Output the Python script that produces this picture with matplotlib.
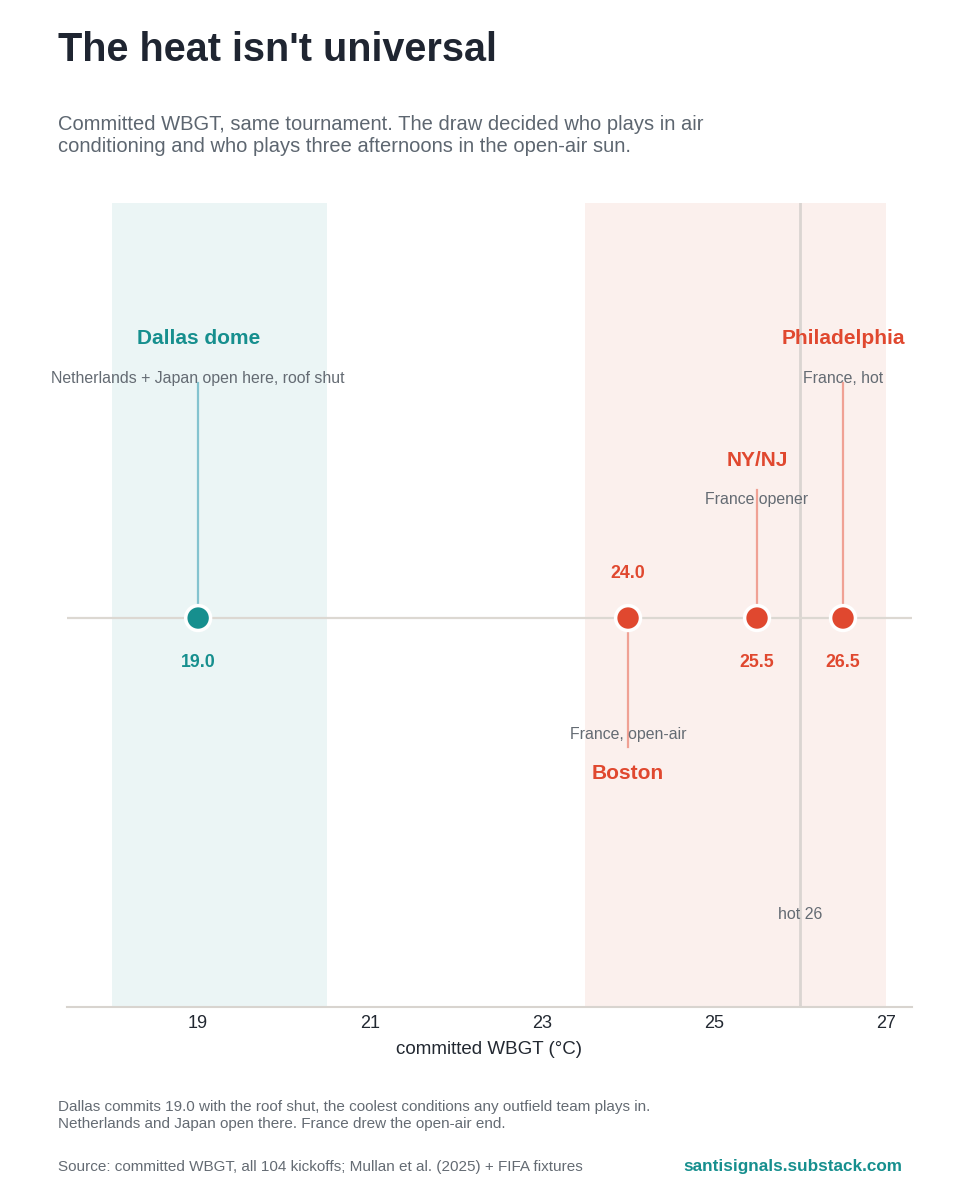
"Committed WBGT by venue: strip chart with annotated stems"
import matplotlib.pyplot as plt

plt.rcParams["font.family"] = ["Liberation Sans", "DejaVu Sans"]

# venues and committed WBGT (deg C)
venues = ["Dallas dome", "Boston", "NY/NJ", "Philadelphia"]
wbgt = [19.0, 24.0, 25.5, 26.5]
notes = ["Netherlands + Japan open here, roof shut", "France, open-air",
         "France opener", "France, hot"]
kind = ["cool", "hot", "hot", "hot"]

# shaded bands and threshold
cool_band = (18.0, 20.5)
hot_band = (23.5, 27.0)
hot_line = 26.0
xticks = [19, 21, 23, 25, 27]

# annotation layout (stem end, note, label, value label) in axis y units
stem_end = [2.35, -1.29, 1.28, 2.35]
note_y = [2.4, -1.16, 1.19, 2.4]
label_y = [2.8, -1.55, 1.58, 2.8]
value_y = [-0.44, 0.45, -0.44, -0.44]

TEAL = "#168f8e"
RED = "#e0482f"
colors = {"cool": TEAL, "hot": RED}
stem_colors = {"cool": "#84c3cf", "hot": "#f0a194"}
GREY = "#646b73"

fig = plt.figure(figsize=(9.6, 12), dpi=100)
ax = fig.add_axes([0.0698, 0.1608, 0.880, 0.670])
ax.set_xlim(17.475, 27.3)
ax.set_ylim(-3.89, 4.15)

ax.axvspan(*cool_band, color="#ebf5f5", zorder=0, lw=0)
ax.axvspan(*hot_band, color="#fbf0ed", zorder=0, lw=0)
ax.axvline(hot_line, color="#dad5d1", lw=2, zorder=1)
ax.axhline(0, color="#dcd8d2", lw=1.6, zorder=1)
ax.text(hot_line, -2.96, "hot 26", ha="center", va="center", fontsize=11.5, color=GREY)

for i in range(len(venues)):
    c = colors[kind[i]]
    ax.plot([wbgt[i], wbgt[i]], [0, stem_end[i]], color=stem_colors[kind[i]], lw=1.6, zorder=2)
    ax.text(wbgt[i], note_y[i], notes[i], ha="center", va="center", fontsize=11.4, color=GREY, zorder=3)
    ax.text(wbgt[i], label_y[i], venues[i], ha="center", va="center", fontsize=15,
            fontweight="bold", color=c, zorder=3)
    ax.text(wbgt[i], value_y[i], f"{wbgt[i]:.1f}", ha="center", va="center", fontsize=12.8,
            fontweight="bold", color=c, zorder=3)

ax.scatter(wbgt, [0] * len(wbgt), s=320, c=[colors[k] for k in kind],
           edgecolors="white", linewidths=2.5, zorder=4)

ax.set_xticks(xticks)
ax.set_xticklabels([str(t) for t in xticks], fontsize=13, color="#222831")
ax.tick_params(axis="x", length=0, pad=6)
ax.set_yticks([])
for side in ["top", "left", "right"]:
    ax.spines[side].set_visible(False)
ax.spines["bottom"].set_color("#d8d4cf")
ax.spines["bottom"].set_linewidth(1.5)
ax.set_xlabel("committed WBGT (°C)", fontsize=13.5, color="#222831", labelpad=6)

fig.text(0.060, 0.958, "The heat isn't universal", fontsize=28.5, fontweight="bold",
         color="#1f2531", va="center")
fig.text(0.060, 0.887, "Committed WBGT, same tournament. The draw decided who plays in air\n"
         "conditioning and who plays three afternoons in the open-air sun.",
         fontsize=14.5, color="#5d6670", va="center", linespacing=1.15)
fig.text(0.060, 0.0705, "Dallas commits 19.0 with the roof shut, the coolest conditions any outfield team plays in.\n"
         "Netherlands and Japan open there. France drew the open-air end.",
         fontsize=11, color=GREY, va="center", linespacing=1.3)
fig.text(0.060, 0.0275, "Source: committed WBGT, all 104 kickoffs; Mullan et al. (2025) + FIFA fixtures",
         fontsize=11, color=GREY, va="center")
fig.text(0.940, 0.0275, "santisignals.substack.com", fontsize=12.3, fontweight="bold",
         color=TEAL, va="center", ha="right")

fig.savefig("out.png", dpi=100)
